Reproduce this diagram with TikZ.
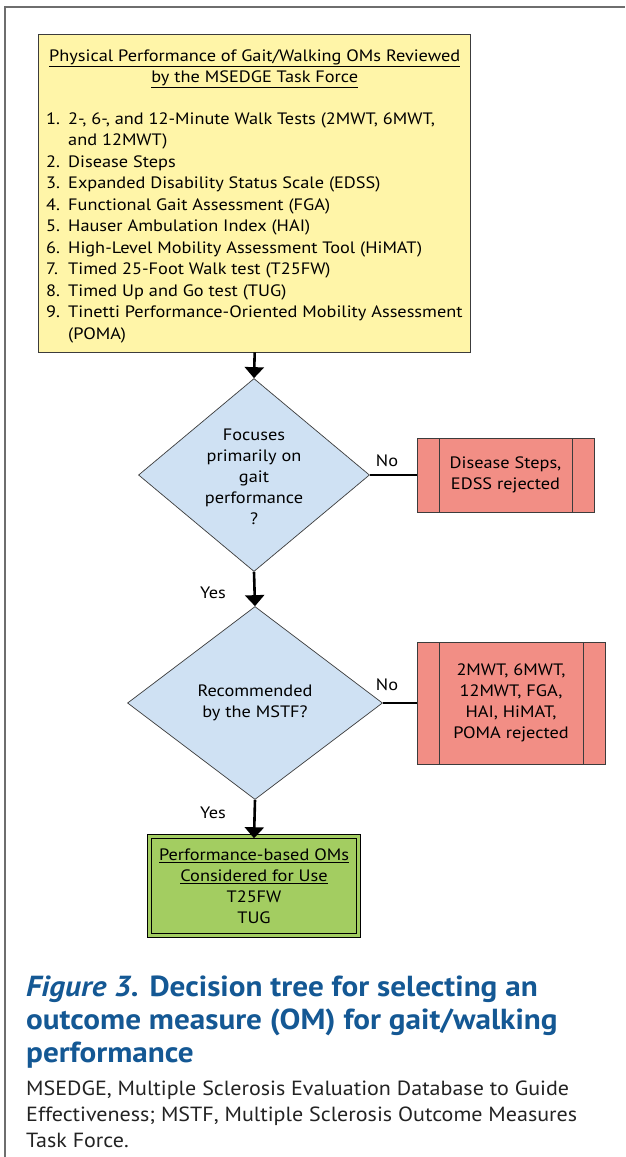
\documentclass[tikz,border=0pt]{standalone}
\usepackage{fontspec}
\setmainfont[FakeStretch=1.11]{PT Sans}
\newfontfamily\capfont[FakeStretch=1.075]{PT Sans}
\usetikzlibrary{shapes.geometric,arrows.meta}

\definecolor{framegray}{RGB}{110,110,110}
\definecolor{edgegray}{RGB}{60,60,60}
\definecolor{listfill}{RGB}{255,245,168}
\definecolor{askfill}{RGB}{207,225,243}
\definecolor{rejfill}{RGB}{242,142,133}
\definecolor{keepfill}{RGB}{163,205,97}
\definecolor{capblue}{RGB}{20,88,148}
\definecolor{notegray}{RGB}{35,35,35}

\begin{document}
\begin{tikzpicture}[x=1pt,y=-1pt,
  txt/.style={inner sep=0pt, font=\fontsize{16.5}{21}\selectfont, text=black},
  listbox/.style={rectangle, draw=edgegray, line width=0.9pt, fill=listfill, inner sep=0pt},
  ask/.style={diamond, draw=edgegray, line width=0.7pt, fill=askfill, inner sep=0pt},
  reject/.style={rectangle, draw=edgegray, line width=0.9pt, fill=rejfill, inner sep=0pt,
    align=center, font=\fontsize{16.5}{21}\selectfont,
    path picture={
      \draw[edgegray, line width=0.9pt]
        ([xshift=22pt]path picture bounding box.north west) --
        ([xshift=22pt]path picture bounding box.south west);
      \draw[edgegray, line width=0.9pt]
        ([xshift=-22pt]path picture bounding box.north east) --
        ([xshift=-22pt]path picture bounding box.south east);}},
  keep/.style={rectangle, draw=black, line width=1.3pt, double=keepfill, double distance=2.2pt,
    fill=keepfill, inner sep=0pt, align=center, font=\fontsize{16.5}{21}\selectfont},
  arr/.style={line width=2.6pt, -{Triangle[width=19pt,length=11pt]}},
  link/.style={line width=2.6pt},
  lbl/.style={inner sep=0pt, font=\fontsize{16.5}{20}\selectfont},
  captitle/.style={inner sep=0pt, anchor=base west, text=capblue,
    font=\capfont\fontsize{29}{33}\selectfont\bfseries},
  capnote/.style={inner sep=0pt, anchor=base west, text=notegray,
    font=\capfont\fontsize{20.5}{26}\selectfont},
]
\useasboundingbox (0,0) rectangle (625,1157);
\fill[white] (0,0) rectangle (625,1157);

% panel frame (top and left rules)
\draw[framegray, line width=1.3pt] (5,1157) -- (5,7) -- (625,7);

% list of reviewed outcome measures
\node[listbox, minimum width=432pt, minimum height=318pt] (omlist) at (254.7,193) {};
\node[txt, anchor=base] (head1) at (254.7,61) {\underline{Physical Performance of Gait/Walking OMs Reviewed}};
\node[txt, anchor=base] (head2) at (254.7,82) {\underline{by the MSEDGE Task Force}};
\node[txt, anchor=base west] (it1) at (46,124) {\makebox[22pt][l]{1.}2-, 6-, and 12-Minute Walk Tests (2MWT, 6MWT,};
\node[txt, anchor=base west] (it1b) at (68,145.5) {and 12MWT)};
\node[txt, anchor=base west] (it2) at (46,167) {\makebox[22pt][l]{2.}Disease Steps};
\node[txt, anchor=base west] (it3) at (46,188.5) {\makebox[22pt][l]{3.}Expanded Disability Status Scale (EDSS)};
\node[txt, anchor=base west] (it4) at (46,210) {\makebox[22pt][l]{4.}Functional Gait Assessment (FGA)};
\node[txt, anchor=base west] (it5) at (46,231.5) {\makebox[22pt][l]{5.}Hauser Ambulation Index (HAI)};
\node[txt, anchor=base west] (it6) at (46,253) {\makebox[22pt][l]{6.}High-Level Mobility Assessment Tool (HiMAT)};
\node[txt, anchor=base west] (it7) at (46,274.5) {\makebox[22pt][l]{7.}Timed 25-Foot Walk test (T25FW)};
\node[txt, anchor=base west] (it8) at (46,296) {\makebox[22pt][l]{8.}Timed Up and Go test (TUG)};
\node[txt, anchor=base west] (it9) at (46,317.5) {\makebox[22pt][l]{9.}Tinetti Performance-Oriented Mobility Assessment};
\node[txt, anchor=base west] (it9b) at (68,339) {(POMA)};

% first decision
\node[ask, minimum width=231pt, minimum height=193pt] (q1) at (254,475) {};
\node[txt, align=center] (q1text) at (254,477) {Focuses\\primarily on\\gait\\performance\\?};
\node[reject, minimum width=177pt, minimum height=74pt] (rej1) at (505.5,475) {Disease Steps,\\EDSS rejected};

% second decision
\node[ask, minimum width=255pt, minimum height=193pt] (q2) at (255,703) {};
\node[txt, align=center] (q2text) at (255,703) {Recommended\\by the MSTF?};
\node[reject, minimum width=188pt, minimum height=122pt] (rej2) at (511,703) {2MWT, 6MWT,\\12MWT, FGA,\\HAI, HiMAT,\\POMA rejected};

% retained measures
\node[keep, minimum width=209pt, minimum height=99pt] (kept) at (254,886)
  {\underline{Performance-based OMs}\\\underline{Considered for Use}\\T25FW\\TUG};

% connectors
\draw[arr] (omlist.south) -- (q1.north);
\draw[link] (q1.east) -- (rej1.west);
\draw[arr] (q1.south) -- (q2.north);
\draw[link] (q2.east) -- (rej2.west);
\draw[arr] (q2.south) -- ([yshift=-2.4pt]kept.north);

% connector labels
\node[lbl] (no1) at (387,461) {No};
\node[lbl] (yes1) at (213,593) {Yes};
\node[lbl] (no2) at (387,685) {No};
\node[lbl] (yes2) at (213,813) {Yes};

% caption
\node[captitle] (cap1) at (26,996) {\textit{Figure 3.} Decision tree for selecting an};
\node[captitle] (cap2) at (26,1029) {outcome measure (OM) for gait/walking};
\node[captitle] (cap3) at (26,1062) {performance};
\node[capnote] (note1) at (26,1095) {MSEDGE, Multiple Sclerosis Evaluation Database to Guide};
\node[capnote] (note2) at (26,1121) {Effectiveness; MSTF, Multiple Sclerosis Outcome Measures};
\node[capnote] (note3) at (26,1147) {Task Force.};
\end{tikzpicture}
\end{document}
